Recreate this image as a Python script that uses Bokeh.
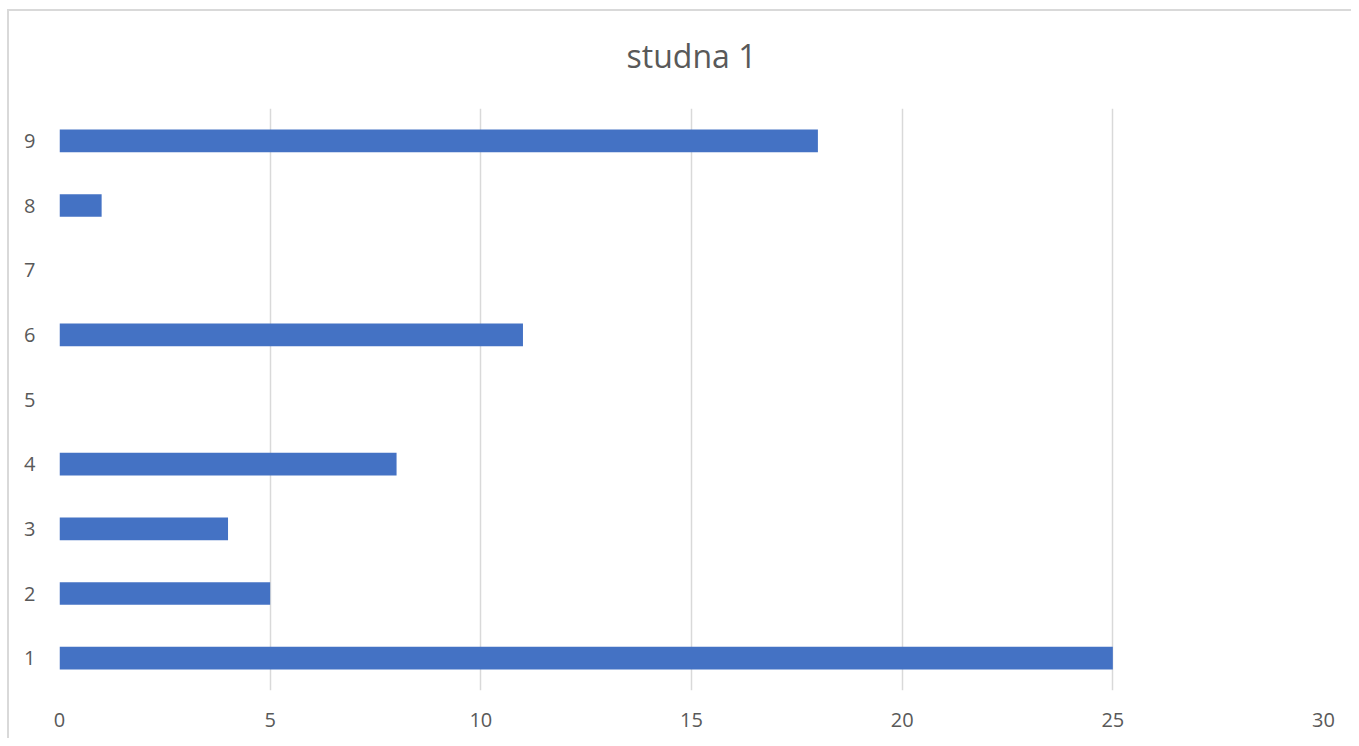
from bokeh.plotting import figure
from bokeh.models import FactorRange, Range1d, FixedTicker
from bokeh.embed import file_html
from bokeh.resources import INLINE

categories = ["1", "2", "3", "4", "5", "6", "7", "8", "9"]
values = [25, 5, 4, 8, 0, 11, 0, 1, 18]
x_ticks = [0, 5, 10, 15, 20, 25, 30]

FONT = "Open Sans"
GREY = "#595959"

p = figure(width=1351, height=738, output_backend="svg", toolbar_location=None,
           y_range=FactorRange(factors=categories, range_padding=0),
           x_range=Range1d(0, 30),
           min_border_left=59, min_border_right=28, min_border_top=108, min_border_bottom=48,
           title="studna 1")

p.hbar(y=categories, right=values, left=0, height=0.35,
       fill_color="#4472C4", line_color=None)

p.title.align = "center"
p.title.text_font = FONT
p.title.text_font_size = "32px"
p.title.text_font_style = "normal"
p.title.text_color = GREY
p.title.offset = 0
p.title.standoff = 63

p.xaxis.ticker = FixedTicker(ticks=x_ticks)
for ax in (p.xaxis[0], p.yaxis[0]):
    ax.axis_line_color = None
    ax.major_tick_line_color = None
    ax.minor_tick_line_color = None
    ax.major_tick_out = 0
    ax.major_tick_in = 0
    ax.major_label_text_font = FONT
    ax.major_label_text_font_size = "20px"
    ax.major_label_text_color = GREY
p.xaxis.major_label_standoff = 22
p.yaxis.major_label_standoff = 24

p.xgrid.grid_line_color = "#d9d9d9"
p.xgrid.grid_line_width = 1.5
p.ygrid.grid_line_color = None
p.outline_line_color = None
p.background_fill_color = "white"
p.border_fill_color = None
p.styles = {
    "background": "linear-gradient(#d9d9d9,#d9d9d9) 7px 9px / 2px 100% no-repeat, "
                  "linear-gradient(#d9d9d9,#d9d9d9) 7px 9px / 100% 2px no-repeat, white",
}

open("out.html", "w").write(file_html(p, INLINE))
